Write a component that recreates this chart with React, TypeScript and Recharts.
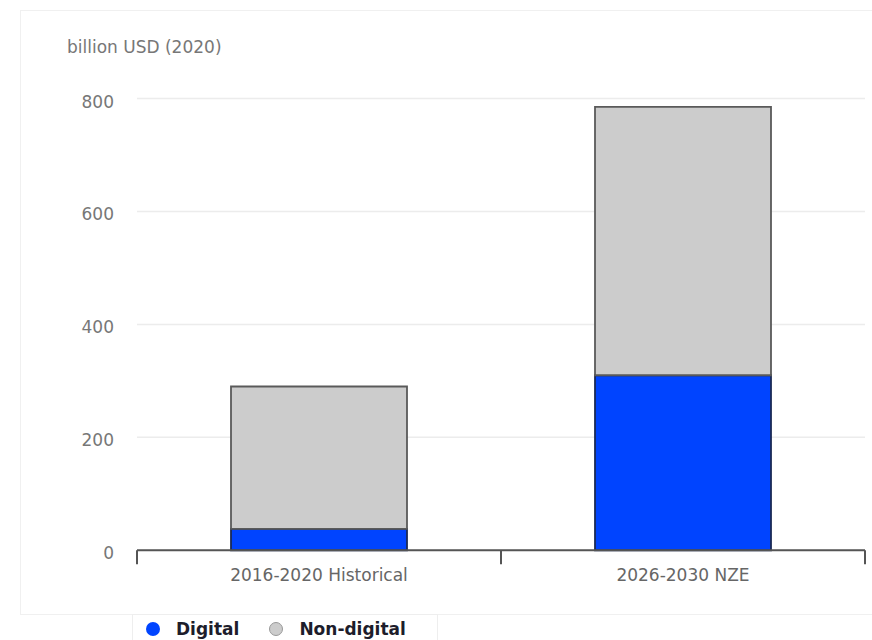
import React from 'react';
import { BarChart, Bar, XAxis, YAxis, CartesianGrid, Legend } from 'recharts';

const categories = ['2016-2020 Historical', '2026-2030 NZE'];
const digital = [38, 310];
const nonDigital = [252, 475];
const yTicks = [0, 200, 400, 600, 800];
const unitLabel = 'billion USD (2020)';
const seriesNames = { digital: 'Digital', nonDigital: 'Non-digital' };

const data = categories.map((c, i) => ({ name: c, digital: digital[i], nonDigital: nonDigital[i] }));

const FONT = '"DejaVu Sans", sans-serif';
const BLUE = '#0044ff';
const GRAY = '#cccccc';

const XTick = (props: any) => {
  const { x, y, payload, index, visibleTicksCount } = props;
  const off = payload && typeof payload.offset === 'number' ? payload.offset : 0;
  const isLast = index === (visibleTicksCount ?? categories.length) - 1;
  return (
    <g>
      <text x={x} y={y + 31} textAnchor="middle" fill="#666" fontSize={17} fontFamily={FONT}>
        {payload.value}
      </text>
      {off > 0 && <line x1={x - off} x2={x - off} y1={y} y2={y + 14} stroke="#555" strokeWidth={2} />}
      {off > 0 && isLast && <line x1={x + off} x2={x + off} y1={y} y2={y + 14} stroke="#555" strokeWidth={2} />}
    </g>
  );
};

const LegendContent = (props: any) => {
  const { payload } = props;
  return (
    <div
      style={{
        boxSizing: 'border-box',
        width: 306,
        height: 40,
        background: '#fff',
        border: '1px solid #eee',
        display: 'flex',
        alignItems: 'flex-start',
        paddingTop: 4,
        paddingLeft: 13,
        fontFamily: FONT,
      }}
    >
      {(payload || []).map((p: any) => {
        const isDigital = p.dataKey === 'digital';
        return (
          <div key={p.value} style={{ display: 'flex', alignItems: 'center', marginRight: 30 }}>
            <span
              style={{
                display: 'inline-block',
                boxSizing: 'border-box',
                width: 14,
                height: 14,
                borderRadius: 7,
                background: isDigital ? BLUE : GRAY,
                border: isDigital ? 'none' : '1.5px solid #999',
                marginRight: 16,
              }}
            />
            <span style={{ fontSize: 17, fontWeight: 700, color: '#1d1d2b', lineHeight: '20px' }}>{p.value}</span>
          </div>
        );
      })}
    </div>
  );
};

export default function App() {
  return (
    <div style={{ position: 'relative', width: 872, height: 640, overflow: 'hidden', background: '#fff', fontFamily: FONT }}>
      <style>{'body{margin:0}'}</style>
      <div
        style={{
          position: 'absolute',
          left: 20,
          top: 10,
          width: 870,
          height: 605,
          border: '1px solid #f0f0f0',
          boxSizing: 'border-box',
        }}
      />
      <div
        style={{
          position: 'absolute',
          left: 67,
          top: 38.5,
          fontSize: 17,
          lineHeight: 1,
          color: '#777',
          whiteSpace: 'nowrap',
          fontFamily: FONT,
        }}
      >
        {unitLabel}
      </div>
      <div style={{ position: 'absolute', left: 0, top: 0 }}>
        <BarChart
          width={872}
          height={640}
          data={data}
          margin={{ top: 98.5, right: 7, left: 0, bottom: 49.7 }}
        >
          <CartesianGrid vertical={false} stroke="#ececec" strokeWidth={1.5} />
          <XAxis
            dataKey="name"
            height={40}
            tickLine={false}
            tickSize={0}
            tickMargin={0}
            axisLine={{ stroke: '#555', strokeWidth: 2 }}
            tick={<XTick />}
            interval={0}
          />
          <YAxis
            width={137}
            domain={[0, 800]}
            ticks={yTicks}
            axisLine={false}
            tickLine={false}
            tickSize={0}
            tickMargin={23}
            tick={{ fill: '#777', fontSize: 17, fontFamily: FONT, dy: 3 }}
          />
          <Legend
            layout="horizontal"
            verticalAlign="middle"
            align="center"
            content={<LegendContent />}
            wrapperStyle={{ top: 614, left: 132, width: 306, height: 40 }}
          />
          <Bar
            dataKey="digital"
            name={seriesNames.digital}
            stackId="a"
            fill={BLUE}
            stroke="#1b2b55"
            strokeWidth={1.8}
            barSize={176}
            isAnimationActive={false}
          />
          <Bar
            dataKey="nonDigital"
            name={seriesNames.nonDigital}
            stackId="a"
            fill={GRAY}
            stroke="#5a5a5a"
            strokeWidth={1.8}
            barSize={176}
            isAnimationActive={false}
          />
        </BarChart>
      </div>
    </div>
  );
}
